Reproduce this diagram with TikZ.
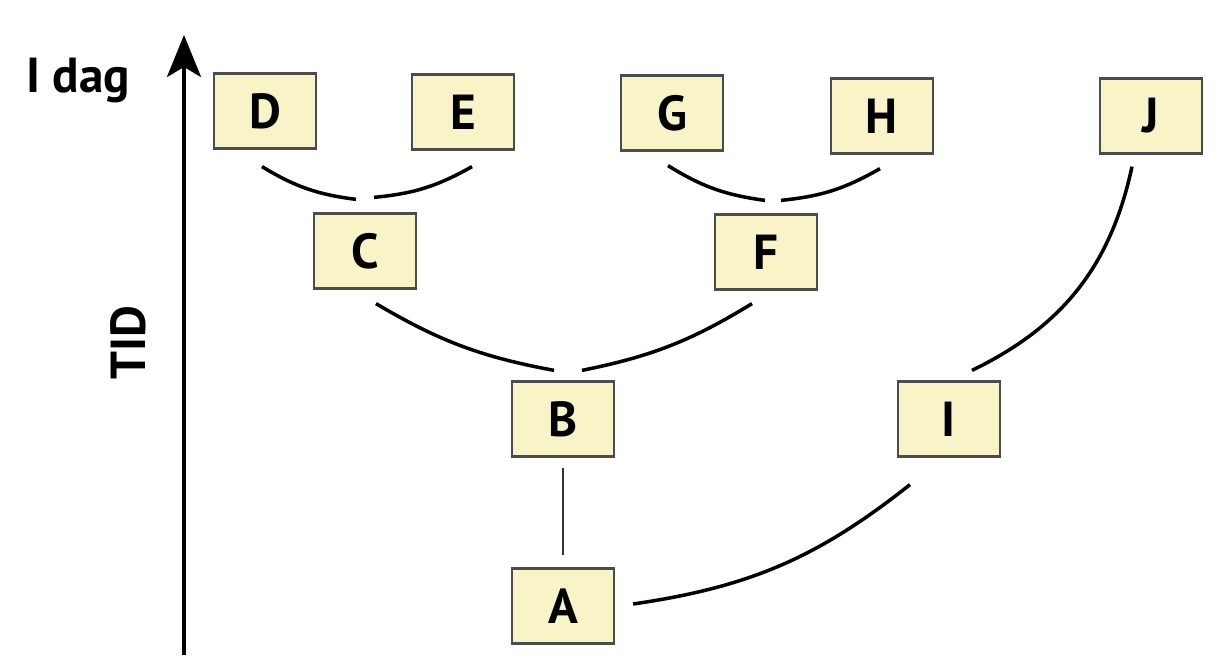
\documentclass[tikz,border=0pt]{standalone}
\usepackage{fontspec}
\setmainfont{PT Sans}
\usepackage{tikz}
\usetikzlibrary{arrows.meta,shapes}
\definecolor{boxfill}{RGB}{248,244,199}
\tikzstyle{taxon}=[rectangle,draw=black!70,line width=1.3pt,fill=boxfill,minimum width=2.04cm,minimum height=1.5cm,inner sep=0pt,font=\fontsize{28}{32}\selectfont\bfseries]
\tikzstyle{edge} = [draw,line width=2pt,-]

\begin{document}
\begin{tikzpicture}[x=0.02cm,y=-0.02cm]
    \useasboundingbox (0,0) rectangle (1224,666);
    % Time axis and labels
    \draw[line width=2pt,-{Stealth[length=0.84cm,width=0.68cm,inset=0.2cm]}] (184,655) -- (184,35);
    \node[font=\fontsize{28}{32}\selectfont\bfseries,anchor=west] (idag) at (20,80) {I dag};
    \node[font=\fontsize{28}{32}\selectfont\bfseries,rotate=90] (tid) at (128,343) {TID};
    % First we draw the boxes
    \foreach \pos/\name in {{(265,111)/D}, {(463,112)/E}, {(672,113)/G}, {(882,116)/H},
        {(1151,116)/J}, {(365,251)/C}, {(766,252)/F}, {(563,419)/B}, {(949,419)/I}, {(563,606)/A}}
        \node[taxon] (\name) at \pos {\name};
    % Connect boxes with arcs, leaving a gap at each end
    \foreach \source/\sx/\sy/\dest/\dx/\dy/\ang in {D.south/-3/17/C.north/-9/-13/12,
        C.north/9/-15/E.south/9/16/12, G.south/-4/14/F.north/-1/-13/12,
        F.north/15/-13/H.south/-2/14/12, C.south/11/14/B.north/-9/-10/10,
        B.north/19/-10/F.south/-14/13/10, I.north/23/-10/J.south/-19/12/26,
        A.east/18/-2/I.south/-39/27/15}
        \path[edge] ([shift={(\sx,\sy)}]\source) to[bend right=\ang] ([shift={(\dx,\dy)}]\dest);
    \path[edge,line width=1.6pt,black!80] ([yshift=-0.2cm]B.south) -- ([yshift=0.24cm]A.north);

\end{tikzpicture}
\end{document}
